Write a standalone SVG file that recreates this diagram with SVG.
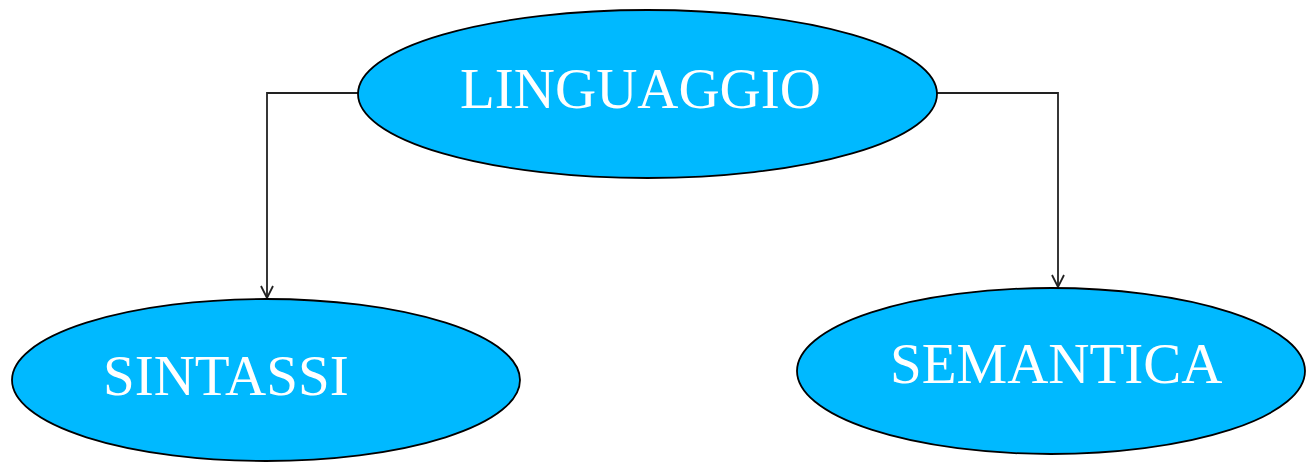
<svg xmlns="http://www.w3.org/2000/svg" width="1307" height="465" viewBox="0 0 1307 465">
<style>
.node ellipse{fill:#00B9FF;stroke:#000;stroke-width:1.8}
.node text{font-family:"Liberation Serif","Times New Roman",serif;font-size:57px;fill:#fff}
.conn path{fill:none;stroke:#222;stroke-width:1.8}
</style>
<defs>
<marker id="arr" viewBox="0 0 14 14" refX="13" refY="7" markerWidth="14" markerHeight="14" markerUnits="userSpaceOnUse" orient="auto">
<path d="M1,1 L13,7 L1,13" fill="none" stroke="#222" stroke-width="1.8"/>
</marker>
</defs>
<g id="connectors" class="conn">
<path d="M358,93 H267 V298" marker-end="url(#arr)"/>
<path d="M937,93 H1058 V287" marker-end="url(#arr)"/>
</g>
<g id="linguaggio" class="node">
<ellipse cx="647.5" cy="94" rx="289.5" ry="84"/>
<text x="460" y="108">LINGUAGGIO</text>
</g>
<g id="sintassi" class="node">
<ellipse cx="266" cy="380" rx="254" ry="81"/>
<text x="103" y="395">SINTASSI</text>
</g>
<g id="semantica" class="node">
<ellipse cx="1051" cy="371" rx="254" ry="83"/>
<text x="890" y="383">SEMANTICA</text>
</g>
</svg>
